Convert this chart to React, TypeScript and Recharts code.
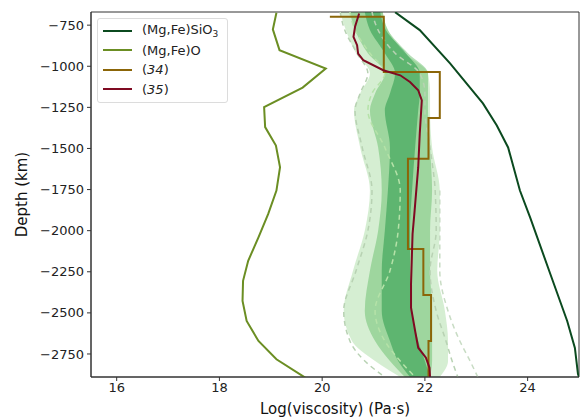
import { ComposedChart, Area, Line, XAxis, YAxis, Legend, ReferenceArea } from "recharts";

const bandDepth = [-670, -780, -921, -1043, -1165, -1268, -1494, -1756, -2000, -2244, -2488, -2671, -2793, -2890];
const outerLo = [20.35, 20.46, 20.66, 20.93, 20.74, 20.62, 20.74, 20.93, 20.83, 20.6, 20.42, 20.58, 21.03, 21.52];
const outerHi = [21.18, 21.28, 21.61, 22.06, 22.1, 22.1, 22.14, 22.29, 22.29, 22.24, 22.39, 22.45, 22.45, 22.29];
const midLo = [20.54, 20.64, 20.89, 21.22, 21.03, 20.93, 21.09, 21.16, 21.09, 20.93, 20.83, 21.03, 21.32, 21.61];
const midHi = [21.18, 21.28, 21.67, 22.06, 22.06, 22.06, 22.1, 22.14, 22.1, 22.1, 22.14, 22.14, 22.14, 22.1];
const coreLo = [20.83, 20.93, 21.22, 21.42, 21.32, 21.22, 21.32, 21.28, 21.22, 21.16, 21.16, 21.32, 21.48, 21.71];
const coreHi = [21.13, 21.24, 21.63, 21.9, 21.9, 21.87, 21.81, 21.75, 21.71, 21.71, 21.75, 21.87, 22.0, 22.1];

// dashed envelope curves
const dashA = [20.35, 20.44, 20.68, 20.89, 20.74, 20.64, 20.78, 20.97, 20.89, 20.66, 20.42, 20.54, 20.83, 21.22];
const dashB = [20.54, 20.64, 20.93, 21.22, 20.97, 20.89, 21.22, 21.52, 21.48, 21.32, 21.03, 21.22, 21.52, 21.81];
const dashC = [20.97, 21.09, 21.42, 21.9, 22.0, 22.0, 22.1, 22.2, 22.22, 22.1, 22.22, 22.41, 22.53, 22.64];
const dashDDepth = [-1756, -2000, -2244, -2488, -2671, -2793, -2890];
const dashD = [22.29, 22.29, 22.29, 22.45, 22.68, 22.88, 23.03];

// (Mg,Fe)SiO3
const silDepth = [-671, -780, -982, -1226, -1360, -1494, -1756, -1921, -2262, -2549, -2713, -2872, -2890];
const silVisc = [21.42, 21.9, 22.49, 23.13, 23.4, 23.62, 23.85, 24.05, 24.44, 24.77, 24.92, 24.98, 25.0];

// (Mg,Fe)O
const oxDepth = [-675, -776, -902, -1014, -1130, -1248, -1370, -1482, -1614, -1756, -1898, -2041, -2183, -2305, -2427, -2549, -2671, -2782, -2894];
const oxVisc = [19.11, 19.04, 19.17, 20.07, 19.62, 18.87, 18.89, 19.1, 19.18, 19.11, 18.95, 18.76, 18.56, 18.46, 18.45, 18.53, 18.76, 19.11, 19.67];

// (34) step profile
const ref34Depth = [-699, -699, -1035, -1035, -1315, -1315, -1563, -1563, -2112, -2112, -2392, -2392, -2671, -2671, -2890];
const ref34Visc = [20.15, 21.2, 21.2, 22.29, 22.29, 22.07, 22.07, 21.67, 21.67, 21.97, 21.97, 22.12, 22.12, 22.07, 22.07];

// (35)
const ref35Depth = [-679, -760, -821, -872, -923, -963, -1024, -1055, -1096, -1146, -1207, -1410, -1614, -1878, -2020, -2325, -2468, -2610, -2712, -2773, -2834, -2890];
const ref35Visc = [20.72, 20.64, 20.61, 20.68, 20.7, 20.8, 21.19, 21.52, 21.71, 21.87, 21.94, 21.9, 21.87, 21.8, 21.76, 21.73, 21.73, 21.81, 21.87, 22.02, 22.09, 22.1];

const xTicks = [16, 18, 20, 22, 24];
const yTicks = [-2750, -2500, -2250, -2000, -1750, -1500, -1250, -1000, -750];

const legendItems = [
  { key: "sil", color: "#0b4a1f" },
  { key: "ox", color: "#6b8e23" },
  { key: "34", color: "#8b6508" },
  { key: "35", color: "#7f0a22" },
];

const toSeries = (depths: number[], values: number[]) =>
  depths.map((depth, i) => ({ depth, v: values[i] }));

const bandData = bandDepth.map((depth, i) => ({
  depth,
  outer: [outerLo[i], outerHi[i]],
  mid: [midLo[i], midHi[i]],
  core: [coreLo[i], coreHi[i]],
  a: dashA[i],
  b: dashB[i],
  c: dashC[i],
}));

const fmt = (v: number) => String(v).replace("-", "\u2212");

const legendLabel = (key: string) => {
  if (key === "sil")
    return (
      <span>
        (Mg,Fe)SiO<span style={{ fontSize: 9, verticalAlign: -3 }}>3</span>
      </span>
    );
  if (key === "ox") return <span>(Mg,Fe)O</span>;
  return (
    <span>
      (<i>{key}</i>)
    </span>
  );
};

const renderLegend = () => (
  <div
    style={{
      border: "1px solid #dcdcdc",
      borderRadius: 3,
      background: "rgba(255,255,255,0.85)",
      padding: "2px 8px 3px 5px",
      fontFamily: "DejaVu Sans",
      fontSize: 13,
      color: "#222",
    }}
  >
    {legendItems.map((it) => (
      <div key={it.key} style={{ display: "flex", alignItems: "center", height: 19.5 }}>
        <div style={{ width: 29, height: 2.2, background: it.color, marginRight: 10 }} />
        {legendLabel(it.key)}
      </div>
    ))}
  </div>
);

const tickStyle = { fontSize: 13, fill: "#222", fontFamily: "DejaVu Sans" };

export default function App() {
  return (
    <div style={{ position: "absolute", left: 0, top: 0, width: 580, height: 419, background: "#fff" }}>
      <ComposedChart
        width={580}
        height={419}
        layout="vertical"
        data={bandData}
        margin={{ top: 12, right: 1, bottom: 0, left: 0 }}
      >
        <XAxis
          type="number"
          dataKey="v"
          domain={[15.5, 25]}
          allowDataOverflow
          ticks={xTicks}
          tick={tickStyle}
          tickSize={4}
          tickMargin={2}
          height={42}
          stroke="#333"
          label={{ value: "Log(viscosity) (Pa\u00b7s)", position: "center", dy: 11, fontSize: 15, fill: "#111", fontFamily: "DejaVu Sans" }}
        />
        <YAxis
          type="number"
          dataKey="depth"
          domain={[-2890, -670]}
          allowDataOverflow
          reversed
          ticks={yTicks}
          tickFormatter={fmt}
          tick={tickStyle}
          tickSize={4}
          tickMargin={3}
          width={91}
          stroke="#333"
          label={{ value: "Depth (km)", angle: -90, position: "center", dx: -24, fontSize: 15, fill: "#111", fontFamily: "DejaVu Sans" }}
        />
        <Legend
          layout="vertical"
          align="center"
          verticalAlign="middle"
          content={renderLegend}
          wrapperStyle={{ left: 97, top: 18, width: 131 }}
        />

        <Area type="monotone" dataKey="outer" fill="#a1d99b" fillOpacity={0.45} stroke="none" isAnimationActive={false} legendType="none" />
        <Area type="monotone" dataKey="mid" fill="#5cb85f" fillOpacity={0.45} stroke="none" isAnimationActive={false} legendType="none" />
        <Area type="monotone" dataKey="core" fill="#2a9a4a" fillOpacity={0.55} stroke="none" isAnimationActive={false} legendType="none" />

        <Line type="monotone" dataKey="a" stroke="#b8d2b3" strokeWidth={1.5} strokeDasharray="5 4" dot={false} isAnimationActive={false} legendType="none" />
        <Line type="monotone" dataKey="b" stroke="#b5e2a8" strokeWidth={1.5} strokeDasharray="5 4" dot={false} isAnimationActive={false} legendType="none" />
        <Line type="monotone" dataKey="c" stroke="#b8d2b3" strokeWidth={1.5} strokeDasharray="5 4" dot={false} isAnimationActive={false} legendType="none" />
        <Line type="monotone" data={toSeries(dashDDepth, dashD)} dataKey="v" stroke="#c8dcc4" strokeWidth={1.5} strokeDasharray="5 4" dot={false} isAnimationActive={false} legendType="none" />

        <Line type="linear" data={toSeries(silDepth, silVisc)} dataKey="v" stroke="#0b4a1f" strokeWidth={2} dot={false} isAnimationActive={false} />
        <Line type="linear" data={toSeries(oxDepth, oxVisc)} dataKey="v" stroke="#6b8e23" strokeWidth={2} dot={false} isAnimationActive={false} />
        <Line type="linear" data={toSeries(ref34Depth, ref34Visc)} dataKey="v" stroke="#8b6508" strokeWidth={2} dot={false} isAnimationActive={false} />
        <Line type="linear" data={toSeries(ref35Depth, ref35Visc)} dataKey="v" stroke="#7f0a22" strokeWidth={2} dot={false} isAnimationActive={false} />

        <ReferenceArea x1={15.5} x2={25} y1={-2890} y2={-670} fill="none" stroke="#333" strokeWidth={1} ifOverflow="visible" />
      </ComposedChart>
    </div>
  );
}
